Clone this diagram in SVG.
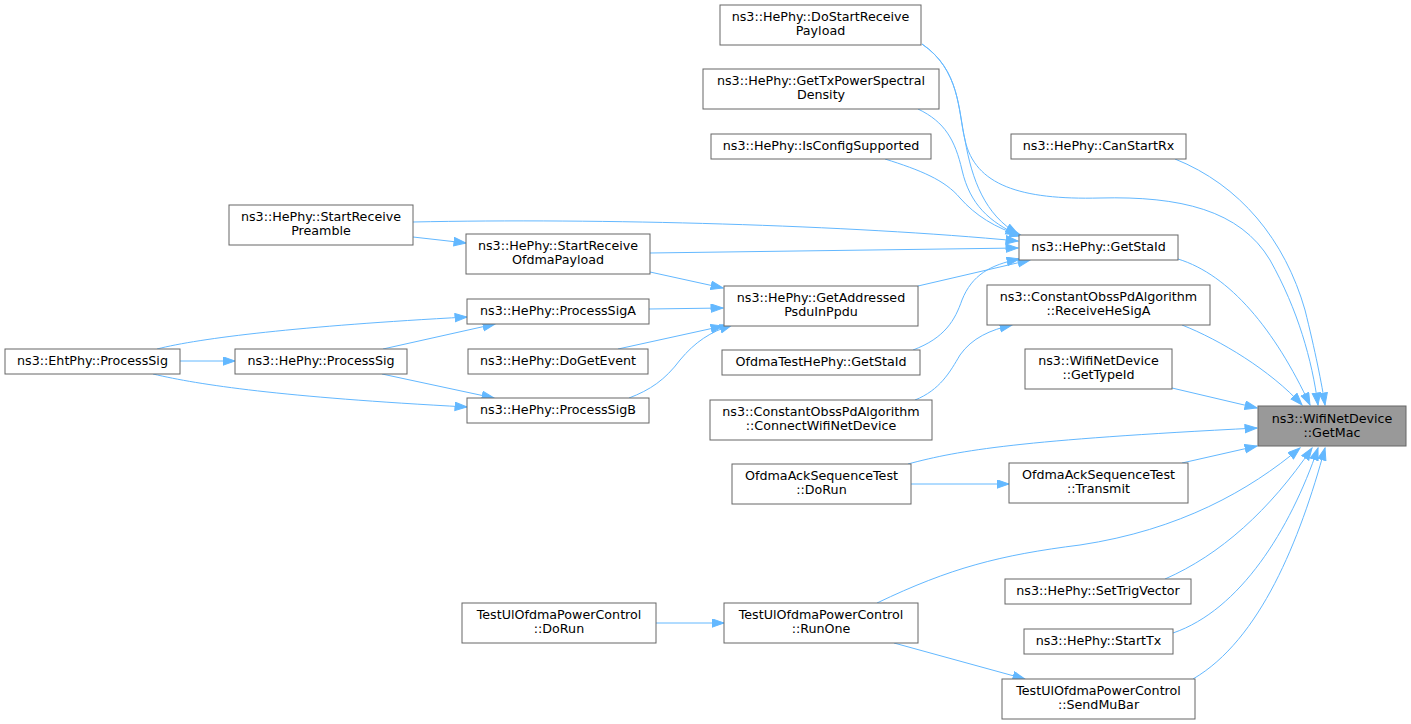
<svg xmlns="http://www.w3.org/2000/svg" width="1411" height="724" viewBox="0 0 1411 724">
<style>
.n rect{fill:#ffffff;stroke:#666666;stroke-width:1}
.n.hl rect{fill:#999999}
.n text{font-family:"DejaVu Sans",sans-serif;font-size:12.7px;fill:#000000;text-anchor:middle}
.e path{fill:none;stroke:#63b8ff;stroke-width:1;marker-end:url(#ah)}
</style>
<defs>
<marker id="ah" markerUnits="userSpaceOnUse" markerWidth="14" markerHeight="10" refX="12.5" refY="4.5" orient="auto" viewBox="0 0 14 10">
<path d="M0.5,0.3 L12.5,4.5 L0.5,8.7 z" fill="#63b8ff" stroke="#63b8ff" stroke-width="1"/>
</marker>
</defs>
<rect width="1411" height="724" fill="#ffffff"/>
<g id="edges" class="e">
<path d="M922,44 C960,70 958,110 965,140 C975,185 1020,200 1100,198 C1180,196 1240,210 1270,260 C1298,310 1312,360 1318,405"/>
<path d="M1175,159 C1240,185 1285,240 1305,310 C1315,350 1322,385 1325,405"/>
<path d="M1178,259 C1230,275 1275,330 1310,405"/>
<path d="M1182,325 C1220,340 1270,370 1302,405"/>
<path d="M1172,388 L1257,408"/>
<path d="M908,464 C960,450 1020,440 1257,428"/>
<path d="M1182,463 L1257,446"/>
<path d="M877,603 C950,568 1000,555 1080,545 C1180,530 1250,490 1300,448"/>
<path d="M1165,579 C1220,555 1270,510 1312,448"/>
<path d="M1173,633 C1240,610 1290,530 1318,448"/>
<path d="M1193,679 C1260,640 1300,540 1325,448"/>
<path d="M922,44 C960,70 958,110 965,140 C972,180 985,215 1018,234"/>
<path d="M918,109 C945,122 955,140 962,170 C970,205 990,222 1018,235"/>
<path d="M885,159 C920,170 945,180 960,198 C975,215 995,228 1022,236"/>
<path d="M413,222 C600,218 850,225 1018,241"/>
<path d="M650,253 L1018,248"/>
<path d="M918,286 L1030,260"/>
<path d="M913,350 C945,338 955,320 962,300 C972,275 990,265 1019,259"/>
<path d="M650,272 L723,288"/>
<path d="M649,309 L723,308"/>
<path d="M618,349 L723,326"/>
<path d="M629,398 C650,390 665,380 680,360 C695,342 710,332 732,325"/>
<path d="M413,237 L466,243"/>
<path d="M157,349 C200,338 300,326 467,317"/>
<path d="M383,349 L495,324"/>
<path d="M180,361 L235,361"/>
<path d="M153,374 C200,385 280,397 467,407"/>
<path d="M382,374 L494,398"/>
<path d="M915,400 C940,390 950,372 960,355 C972,338 990,330 1012,325"/>
<path d="M911,484 L1009,484"/>
<path d="M656,623 L724,623"/>
<path d="M894,643 L1025,679"/>
</g>
<g id="n_getmac" class="n hl"><rect x="1258" y="406" width="148" height="40"/><text x="1332" y="422.5">ns3::WifiNetDevice</text><text x="1332" y="436.5">::GetMac</text></g>
<g id="n_dostartreceivepayload" class="n"><rect x="720" y="5" width="201" height="40"/><text x="820.5" y="21">ns3::HePhy::DoStartReceive</text><text x="820.5" y="35">Payload</text></g>
<g id="n_gettxpsd" class="n"><rect x="703" y="69" width="236" height="40"/><text x="821" y="85">ns3::HePhy::GetTxPowerSpectral</text><text x="821" y="99">Density</text></g>
<g id="n_isconfigsupported" class="n"><rect x="711" y="134" width="220" height="25"/><text x="821" y="150">ns3::HePhy::IsConfigSupported</text></g>
<g id="n_canstartrx" class="n"><rect x="1011" y="134" width="175" height="25"/><text x="1098.5" y="150">ns3::HePhy::CanStartRx</text></g>
<g id="n_getstaid" class="n"><rect x="1019" y="235" width="159" height="25"/><text x="1098.5" y="251">ns3::HePhy::GetStaId</text></g>
<g id="n_startreceivepreamble" class="n"><rect x="229" y="205" width="184" height="40"/><text x="321" y="221">ns3::HePhy::StartReceive</text><text x="321" y="235">Preamble</text></g>
<g id="n_startreceiveofdmapayload" class="n"><rect x="466" y="234" width="184" height="40"/><text x="558" y="250">ns3::HePhy::StartReceive</text><text x="558" y="264">OfdmaPayload</text></g>
<g id="n_processsiga" class="n"><rect x="467" y="299" width="182" height="25"/><text x="558" y="315">ns3::HePhy::ProcessSigA</text></g>
<g id="n_ehtprocesssig" class="n"><rect x="5" y="349" width="175" height="25"/><text x="92.5" y="365">ns3::EhtPhy::ProcessSig</text></g>
<g id="n_heprocesssig" class="n"><rect x="235" y="349" width="172" height="25"/><text x="321" y="365">ns3::HePhy::ProcessSig</text></g>
<g id="n_dogetevent" class="n"><rect x="468" y="349" width="180" height="25"/><text x="558" y="365">ns3::HePhy::DoGetEvent</text></g>
<g id="n_processsigb" class="n"><rect x="467" y="398" width="182" height="25"/><text x="558" y="414">ns3::HePhy::ProcessSigB</text></g>
<g id="n_getaddressedpsdu" class="n"><rect x="724" y="286" width="194" height="40"/><text x="821" y="302">ns3::HePhy::GetAddressed</text><text x="821" y="316">PsduInPpdu</text></g>
<g id="n_ofdmatestgetstaid" class="n"><rect x="722" y="350" width="198" height="25"/><text x="821" y="366">OfdmaTestHePhy::GetStaId</text></g>
<g id="n_connectwifinetdevice" class="n"><rect x="710" y="400" width="222" height="40"/><text x="821" y="416">ns3::ConstantObssPdAlgorithm</text><text x="821" y="430">::ConnectWifiNetDevice</text></g>
<g id="n_receivehesiga" class="n"><rect x="987" y="285" width="223" height="40"/><text x="1098.5" y="301">ns3::ConstantObssPdAlgorithm</text><text x="1098.5" y="315">::ReceiveHeSigA</text></g>
<g id="n_gettypeid" class="n"><rect x="1025" y="349" width="147" height="40"/><text x="1098.5" y="365">ns3::WifiNetDevice</text><text x="1098.5" y="379">::GetTypeId</text></g>
<g id="n_transmit" class="n"><rect x="1009" y="463" width="179" height="40"/><text x="1098.5" y="479">OfdmaAckSequenceTest</text><text x="1098.5" y="493">::Transmit</text></g>
<g id="n_ofdmaackdorun" class="n"><rect x="732" y="464" width="179" height="40"/><text x="821.5" y="480">OfdmaAckSequenceTest</text><text x="821.5" y="494">::DoRun</text></g>
<g id="n_settrigvector" class="n"><rect x="1005" y="579" width="186" height="25"/><text x="1098" y="595">ns3::HePhy::SetTrigVector</text></g>
<g id="n_starttx" class="n"><rect x="1024" y="629" width="149" height="25"/><text x="1098.5" y="645">ns3::HePhy::StartTx</text></g>
<g id="n_sendmubar" class="n"><rect x="1002" y="679" width="193" height="40"/><text x="1098.5" y="695">TestUlOfdmaPowerControl</text><text x="1098.5" y="709">::SendMuBar</text></g>
<g id="n_runone" class="n"><rect x="724" y="603" width="194" height="40"/><text x="821" y="619">TestUlOfdmaPowerControl</text><text x="821" y="633">::RunOne</text></g>
<g id="n_tuldorun" class="n"><rect x="462" y="603" width="194" height="40"/><text x="559" y="619">TestUlOfdmaPowerControl</text><text x="559" y="633">::DoRun</text></g>
</svg>
